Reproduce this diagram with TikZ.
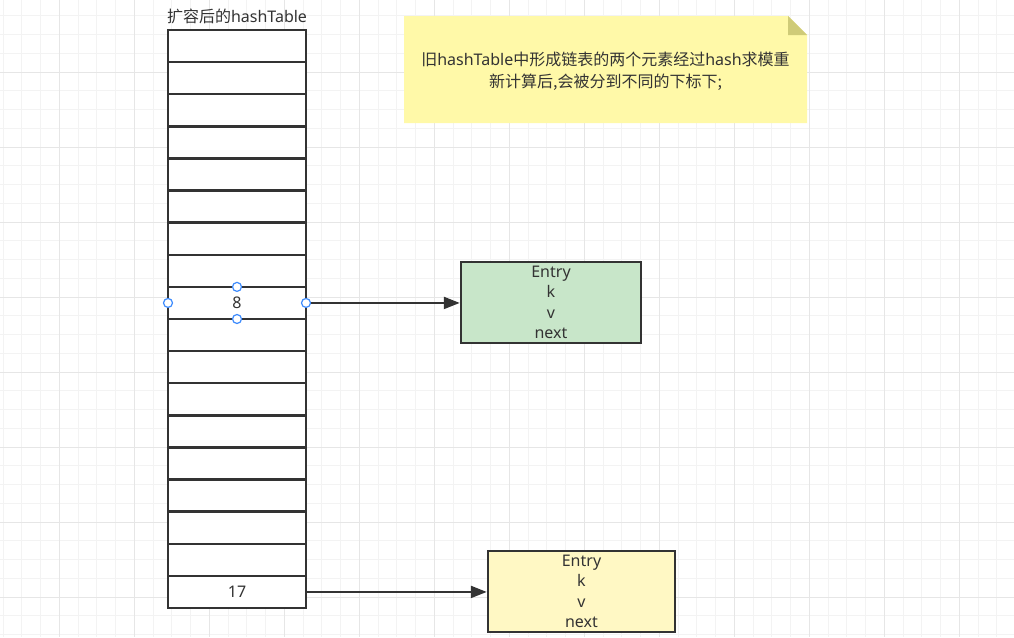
\documentclass[tikz,border=0pt]{standalone}
\usepackage{fontspec}
\setmainfont{Noto Sans}
\newfontfamily\cjk{Noto Sans CJK SC}
\usepackage{tikz}
\usepackage{xcolor}
\usetikzlibrary{arrows.meta}
\definecolor{ink}{HTML}{333333}
\definecolor{gridminor}{HTML}{F3F3F3}
\definecolor{gridmajor}{HTML}{E6E6E6}
\definecolor{entrygreen}{HTML}{C8E6C9}
\definecolor{entryyellow}{HTML}{FFF8C4}
\definecolor{notefill}{HTML}{FFF9A8}
\definecolor{notefold}{HTML}{CFCB78}
\definecolor{handleblue}{HTML}{3D8BFD}
\tikzset{
    grid-minor/.style = {draw=gridminor, line width=0.8pt},
    grid-major/.style = {draw=gridmajor, line width=0.8pt},
    table-cell/.style = {draw=ink, fill=white, line width=2.5pt, rectangle, minimum width=138pt, minimum height=32.11pt, inner sep=0pt, outer sep=0pt},
    cell-text/.style = {text=ink, inner sep=0pt, font=\fontsize{16}{20}\selectfont},
    entry-box/.style = {draw=ink, line width=2.5pt, rectangle, minimum height=81pt, inner sep=0pt, align=center, text=ink, font=\fontsize{16}{20.3}\selectfont},
    link-arrow/.style = {draw=ink, line width=2.2pt, -{Triangle[length=16pt,width=12pt]}},
    handle/.style = {draw=handleblue, fill=white, circle, line width=1.2pt, minimum size=9pt, inner sep=0pt},
    note-text/.style = {text=ink, align=center, inner sep=0pt, font=\fontsize{16}{22}\selectfont},
}

\begin{document}
\begin{tikzpicture}[x=1pt, y=-1pt]
\useasboundingbox (0,0) rectangle (1014,637);
\fill[white] (0,0) rectangle (1014,637);
% background grid
\foreach \i [evaluate=\i as \gx using 3.05+18.75*\i] in {0,...,53}
    \draw[grid-minor] (\gx,0) -- (\gx,637);
\foreach \j [evaluate=\j as \gy using 15.75+18.75*\j] in {0,...,33}
    \draw[grid-minor] (0,\gy) -- (1014,\gy);
\foreach \i [evaluate=\i as \gx using 59.3+75*\i] in {0,...,12}
    \draw[grid-major] (\gx,0) -- (\gx,637);
\foreach \j [evaluate=\j as \gy using 72+75*\j] in {0,...,7}
    \draw[grid-major] (0,\gy) -- (1014,\gy);

% note
\fill[notefill] (404,16) -- (788,16) -- (807,35) -- (807,123) -- (404,123) -- cycle;
\fill[notefold] (788,16) -- (807,35) -- (788,35) -- cycle;
\node[note-text] (note) at (605.5,71) {{\cjk 旧}hashTable{\cjk 中形成链表的两个元素经过}hash{\cjk 求模重}\\{\cjk 新计算后,会被分到不同的下标下;}};

% table
\node[cell-text] (title) at (237,16) {{\cjk 扩容后的}hashTable};
\foreach \r [evaluate=\r as \cy using 46.06+32.11*\r] in {0,...,17}
    \node[table-cell] (row\r) at (237,\cy) {};
\node[cell-text] (key8) at (row8) {8};
\node[cell-text] (key17) at (row17) {17};

% entries
\node[entry-box, fill=entrygreen, minimum width=180pt] (entry-a) at (551,302.5) {Entry\\k\\v\\next};
\node[entry-box, fill=entryyellow, minimum width=187pt] (entry-b) at (581.5,591.5) {Entry\\k\\v\\next};

\draw[link-arrow] (row8.east) -- (row8.east -| entry-a.west);
\draw[link-arrow] (row17.east) -- (row17.east -| entry-b.west);

% selection handles
\node[handle] (h-top) at (row8.north) {};
\node[handle] (h-bottom) at (row8.south) {};
\node[handle] (h-left) at (row8.west) {};
\node[handle] (h-right) at (row8.east) {};
\end{tikzpicture}
\end{document}
